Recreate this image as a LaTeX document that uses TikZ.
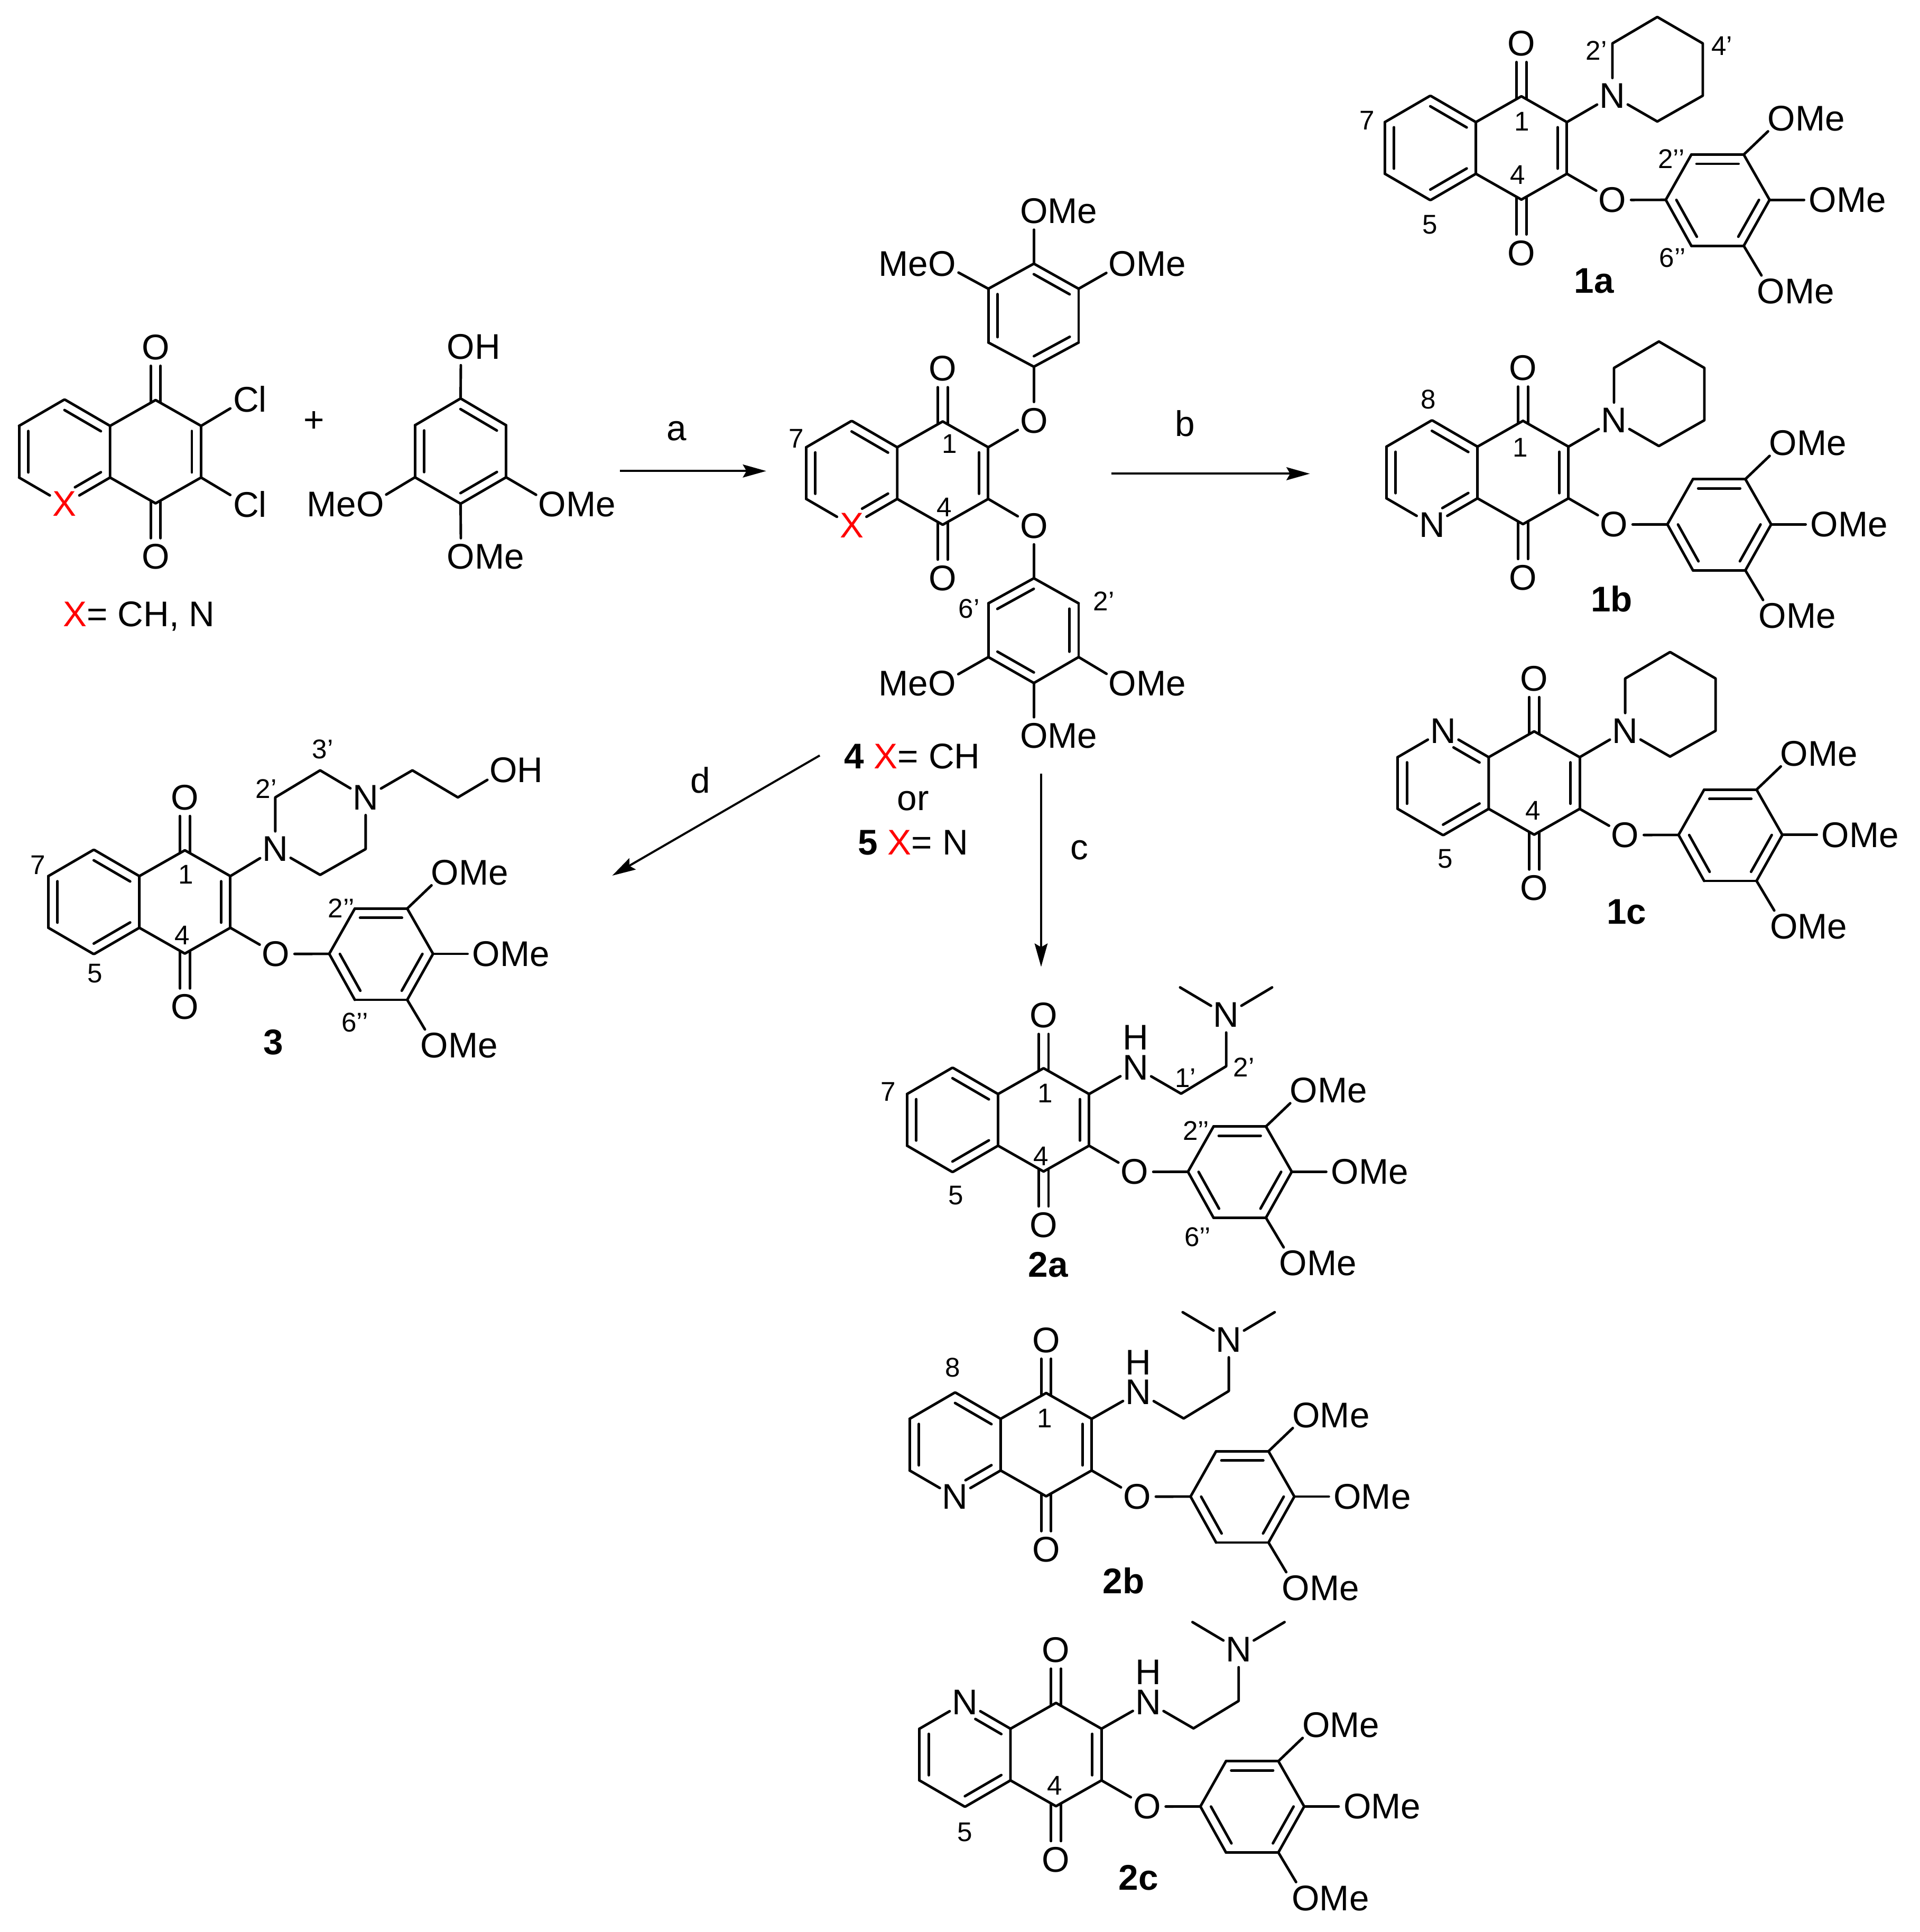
\documentclass[tikz,border=0pt]{standalone}
\usepackage{fontspec}
\setmainfont{Liberation Sans}
\usetikzlibrary{calc,arrows.meta}

\newcommand{\atomfont}{\fontsize{29}{30}\selectfont}
\newcommand{\numfont}{\fontsize{22}{23}\selectfont}
\newcommand{\primemark}{\symbol{39}}
\newcommand{\ome}{O\rlap{Me}}
\newcommand{\meo}{\llap{Me}O}
\newcommand{\redx}{\textcolor{red}{X}}

\tikzset{
  bond/.style={line width=2.1pt,line cap=round,line join=round},
  rxn/.style={line width=1.7pt,-{Stealth[length=19pt,width=10.5pt,inset=3pt]}},
  atom/.style={circle,inner sep=0pt,outer sep=0pt,font=\atomfont},
  txt/.style={inner sep=0pt,font=\atomfont},
  num/.style={inner sep=0pt,font=\numfont},
  cpd/.style={inner sep=0pt,font=\atomfont\bfseries}
}

% double bond: outer line plus inner line on the left of #1 -> #2
\newcommand{\dbl}[4]{
  \draw[bond] (#1) -- (#2);
  \draw[bond] ($(#1)!#3!(#2)!7.5pt!90:(#2)$) -- ($(#2)!#4!(#1)!7.5pt!-90:(#1)$);
}

% quinone core: #1 text and #2 fraction at position 8, #3 and #4 at position 5
\newcommand{\quinonecore}[4]{
  \coordinate (q1) at (0,-42);
  \coordinate (c2) at (37,-21);
  \coordinate (c3) at (37,21);
  \coordinate (q4) at (0,42);
  \coordinate (c4a) at (-37,21);
  \coordinate (c8a) at (-37,-21);
  \coordinate (a7) at (-111,-21);
  \coordinate (a6) at (-111,21);
  \node[atom] (a8) at (-74,-42.5) {#1};
  \node[atom] (a5) at (-74,42.5) {#3};
  \node[atom] (otop) at (0,-85) {O};
  \node[atom] (obot) at (0,85.5) {O};
  \draw[bond] (c8a) -- (q1) -- (c2);
  \draw[bond] (c3) -- (q4) -- (c4a) -- (c8a);
  \draw[bond] (a8) -- (a7);
  \draw[bond] (a6) -- (a5);
  \dbl{a7}{a6}{.1}{.1}
  \dbl{a5}{c4a}{#4}{.1}
  \dbl{c8a}{a8}{.1}{#2}
  \dbl{c3}{c2}{.1}{.1}
  \draw[bond,shorten <=-2pt,transform canvas={xshift=4pt}] (q1) -- (otop);
  \draw[bond,shorten <=-2pt,transform canvas={xshift=-4pt}] (q1) -- (otop);
  \draw[bond,shorten <=-2pt,transform canvas={xshift=4pt}] (q4) -- (obot);
  \draw[bond,shorten <=-2pt,transform canvas={xshift=-4pt}] (q4) -- (obot);
}

% aryl ether on c3 with its three OMe groups
\newcommand{\arylether}{
  \node[atom] (olink) at (74,42.3) {O};
  \coordinate (r1) at (117.4,42.2);
  \coordinate (r2) at (138.2,5.4);
  \coordinate (r3) at (180.8,5.4);
  \coordinate (r4) at (201.8,42.2);
  \coordinate (r5) at (180.8,79.6);
  \coordinate (r6) at (138.2,79.6);
  \node[atom] (me3) at (211.5,-24) {\ome};
  \node[atom] (me4) at (245,42.2) {\ome};
  \node[atom] (me5) at (203,116.7) {\ome};
  \draw[bond] (c3) -- (olink) -- (r1);
  \draw[bond] (r1) -- (r2);
  \draw[bond] (r6) -- (r5);
  \draw[bond] (r4) -- (r3);
  \dbl{r1}{r6}{.1}{.1}
  \dbl{r5}{r4}{.1}{.1}
  \dbl{r3}{r2}{.1}{.1}
  \draw[bond] (r3) -- (me3);
  \draw[bond] (r4) -- (me4);
  \draw[bond] (r5) -- (me5);
}

\newcommand{\piperidine}{
  \node[atom] (npip) at (74,-42.5) {N};
  \coordinate (p2) at (74,-85);
  \coordinate (p3) at (110.5,-106.5);
  \coordinate (p4) at (147.5,-85);
  \coordinate (p5) at (147.5,-42.5);
  \coordinate (p6) at (110.5,-21.5);
  \draw[bond] (c2) -- (npip);
  \draw[bond] (npip) -- (p2) -- (p3) -- (p4) -- (p5) -- (p6) -- (npip);
}

\newcommand{\aminochain}{
  \node[atom] (nh) at (75,-42.6) {\smash{\rlap{\raisebox{24.4pt}{H}}}N};
  \coordinate (ch1) at (111.8,-21.3);
  \coordinate (ch2) at (148.5,-43.6);
  \node[atom] (nme) at (148.5,-85.4) {N};
  \coordinate (mea) at (111,-107.7);
  \coordinate (meb) at (185.8,-107.7);
  \draw[bond] (c2) -- (nh);
  \draw[bond] (nh) -- (ch1) -- (ch2) -- (nme);
  \draw[bond] (nme) -- (mea);
  \draw[bond] (nme) -- (meb);
}

\begin{document}
\begin{tikzpicture}[x=1pt,y=-1pt]
  \useasboundingbox (0,0) rectangle (1561,1571);

  % starting materials
  \begin{scope}[shift={(126.5,367.3)},name prefix=sm-]
    \quinonecore{}{.1}{\redx}{.33}
    \node[atom] (cla) at (73.5,-42.8) {C\rlap{l}};
    \node[atom] (clb) at (73.5,42.8) {C\rlap{l}};
    \draw[bond] (c2) -- (cla);
    \draw[bond] (c3) -- (clb);
  \end{scope}
  \node[txt] (xlist) at (113,501) {\redx= CH, N};
  \node[txt] (plus) at (255.5,342.8) {+};

  \coordinate (ph1) at (374.5,324);
  \coordinate (ph2) at (411.5,345.8);
  \coordinate (ph3) at (411.5,388.1);
  \coordinate (ph4) at (374.5,409.6);
  \coordinate (ph5) at (337.4,388.1);
  \coordinate (ph6) at (337.4,345.8);
  \node[atom] (phoh) at (374.8,281.8) {O\rlap{H}};
  \node[atom] (phr) at (449,410) {\ome};
  \node[atom] (phb) at (374.8,452.8) {\ome};
  \node[atom] (phl) at (301,410) {\meo};
  \draw[bond] (ph1) -- (ph6);
  \draw[bond] (ph5) -- (ph4);
  \draw[bond] (ph3) -- (ph2);
  \dbl{ph6}{ph5}{.1}{.1}
  \dbl{ph4}{ph3}{.1}{.1}
  \dbl{ph2}{ph1}{.1}{.1}
  \draw[bond] (ph1) -- (phoh);
  \draw[bond] (ph3) -- (phr);
  \draw[bond] (ph4) -- (phb);
  \draw[bond] (ph5) -- (phl);

  % intermediates 4 and 5
  \begin{scope}[shift={(766.5,384.7)},name prefix=im-]
    \quinonecore{}{.1}{\redx}{.33}
    \node[atom] (oup) at (74.1,-42.7) {O};
    \node[atom] (olo) at (74.1,42.8) {O};
    \draw[bond] (c2) -- (oup);
    \draw[bond] (c3) -- (olo);
    \coordinate (u1) at (74.1,-86.5);
    \coordinate (u2) at (110.5,-106.2);
    \coordinate (u3) at (110.5,-149.9);
    \coordinate (u4) at (74.1,-170.3);
    \coordinate (u5) at (37.1,-149.9);
    \coordinate (u6) at (37.1,-106.2);
    \node[atom] (utop) at (74.1,-213.1) {\ome};
    \node[atom] (uright) at (146.2,-170.3) {\ome};
    \node[atom] (uleft) at (-.5,-170.3) {\meo};
    \draw[bond] (oup) -- (u1);
    \draw[bond] (u6) -- (u1);
    \draw[bond] (u4) -- (u5);
    \draw[bond] (u3) -- (u2);
    \dbl{u1}{u2}{.1}{.1}
    \dbl{u3}{u4}{.1}{.1}
    \dbl{u5}{u6}{.1}{.1}
    \draw[bond] (u4) -- (utop);
    \draw[bond] (u3) -- (uright);
    \draw[bond] (u5) -- (uleft);
    \coordinate (l1) at (74.1,85.5);
    \coordinate (l2) at (110.5,105.9);
    \coordinate (l3) at (110.5,149.6);
    \coordinate (l4) at (74.1,170.7);
    \coordinate (l5) at (37.1,149.6);
    \coordinate (l6) at (37.1,105.9);
    \node[atom] (lbot) at (74.1,213.7) {\ome};
    \node[atom] (lright) at (146.2,171) {\ome};
    \node[atom] (lleft) at (-.5,171) {\meo};
    \draw[bond] (olo) -- (l1);
    \draw[bond] (l1) -- (l2);
    \draw[bond] (l3) -- (l4);
    \draw[bond] (l5) -- (l6);
    \dbl{l1}{l6}{.1}{.1}
    \dbl{l3}{l2}{.1}{.1}
    \dbl{l5}{l4}{.1}{.1}
    \draw[bond] (l4) -- (lbot);
    \draw[bond] (l3) -- (lright);
    \draw[bond] (l5) -- (lleft);
  \end{scope}
  \node[num] (im7) at (647.6,356.4) {7};
  \node[num] (im1) at (772,360.7) {1};
  \node[num] (im4) at (767.7,412.3) {4};
  \node[num] (im6p) at (788,494.9) {6\primemark};
  \node[num] (im2p) at (897.6,489) {2\primemark};
  \node[txt] (imlabela) at (741.7,615) {{\bfseries 4} \redx= CH};
  \node[txt] (imlabelb) at (742.4,651.2) {or};
  \node[txt] (imlabelc) at (742.4,685.3) {{\bfseries 5} \redx= N};

  % piperidines 1a, 1b, 1c
  \begin{scope}[shift={(1237,120.3)},name prefix=ma-]
    \quinonecore{}{.1}{}{.1}
    \arylether
    \piperidine
  \end{scope}
  \node[num] (ma7) at (1111.6,98) {7};
  \node[num] (ma1) at (1237.3,98.7) {1};
  \node[num] (ma4) at (1234,142.3) {4};
  \node[num] (ma5) at (1162.8,182.6) {5};
  \node[num] (ma2p) at (1298,41) {2\primemark};
  \node[num] (ma4p) at (1400,37.5) {4\primemark};
  \node[num] (ma2pp) at (1359,129) {2\primemark\primemark};
  \node[num] (ma6pp) at (1360,209.7) {6\primemark\primemark};
  \node[cpd] (maname) at (1296,228.6) {1a};

  \begin{scope}[shift={(1238.3,384.2)},name prefix=mb-]
    \quinonecore{}{.1}{N}{.33}
    \arylether
    \piperidine
  \end{scope}
  \node[num] (mb8) at (1161.2,324.6) {8};
  \node[num] (mb1) at (1236.3,363.7) {1};
  \node[cpd] (mbname) at (1310.5,486.9) {1b};

  \begin{scope}[shift={(1247.4,636.7)},name prefix=mc-]
    \quinonecore{N}{.33}{}{.1}
    \arylether
    \piperidine
  \end{scope}
  \node[num] (mc4) at (1246.4,659.3) {4};
  \node[num] (mc5) at (1175.2,698.3) {5};
  \node[cpd] (mcname) at (1322.5,741.4) {1c};

  % amines 2a, 2b, 2c
  \begin{scope}[shift={(848.5,910.6)},name prefix=na-]
    \quinonecore{}{.1}{}{.1}
    \arylether
    \aminochain
  \end{scope}
  \node[num] (na7) at (722,887.6) {7};
  \node[num] (na1) at (850,889) {1};
  \node[num] (na4) at (846.4,940) {4};
  \node[num] (na5) at (777.4,972) {5};
  \node[num] (na1p) at (963.8,876.5) {1\primemark};
  \node[num] (na2p) at (1011.3,868) {2\primemark};
  \node[num] (na2pp) at (972.5,919.6) {2\primemark\primemark};
  \node[num] (na6pp) at (973.8,1006) {6\primemark\primemark};
  \node[cpd] (naname) at (852.2,1028.4) {2a};

  \begin{scope}[shift={(850.6,1174.7)},name prefix=nb-]
    \quinonecore{}{.1}{N}{.33}
    \arylether
    \aminochain
  \end{scope}
  \node[num] (nb8) at (774.5,1112.1) {8};
  \node[num] (nb1) at (849.6,1153.2) {1};
  \node[cpd] (nbname) at (913.7,1285.4) {2b};

  \begin{scope}[shift={(858.6,1426.7)},name prefix=nc-]
    \quinonecore{N}{.33}{}{.1}
    \arylether
    \aminochain
  \end{scope}
  \node[num] (nc4) at (857.6,1451.8) {4};
  \node[num] (nc5) at (784.5,1489.8) {5};
  \node[cpd] (ncname) at (925.8,1526.9) {2c};

  % piperazine 3
  \begin{scope}[shift={(150.3,733.4)},name prefix=pz-]
    \quinonecore{}{.1}{}{.1}
    \arylether
    \node[atom] (na) at (73.5,-43) {N};
    \node[atom] (nb) at (147,-85) {N};
    \coordinate (z1) at (73.5,-85);
    \coordinate (z2) at (110,-107);
    \coordinate (z3) at (147,-43);
    \coordinate (z4) at (110,-22);
    \coordinate (e1) at (185,-107);
    \coordinate (e2) at (222,-85);
    \node[atom] (oh) at (259,-107) {O\rlap{H}};
    \draw[bond] (c2) -- (na);
    \draw[bond] (na) -- (z1) -- (z2) -- (nb);
    \draw[bond] (nb) -- (z3) -- (z4) -- (na);
    \draw[bond] (nb) -- (e1) -- (e2) -- (oh);
  \end{scope}
  \node[num] (pz7) at (31,703.3) {7};
  \node[num] (pz1) at (151.3,711.3) {1};
  \node[num] (pz4) at (148.3,760.4) {4};
  \node[num] (pz5) at (77.1,791.5) {5};
  \node[num] (pz2p) at (216.4,641.2) {2\primemark};
  \node[num] (pz3p) at (262.5,609.2) {3\primemark};
  \node[num] (pz2pp) at (277.5,738.4) {2\primemark\primemark};
  \node[num] (pz6pp) at (288.5,831.6) {6\primemark\primemark};
  \node[cpd] (pzname) at (222.4,847.6) {3};

  % reaction arrows
  \coordinate (sa) at (504,383);
  \coordinate (ea) at (623,383);
  \coordinate (sb) at (903.7,385.2);
  \coordinate (eb) at (1065,385.2);
  \coordinate (sc) at (846.5,629.2);
  \coordinate (ec) at (846.5,786.2);
  \coordinate (sd) at (666.5,614.3);
  \coordinate (ed) at (497.8,712);
  \draw[rxn] (sa) -- (ea);
  \draw[rxn] (sb) -- (eb);
  \draw[rxn] (sc) -- (ec);
  \draw[rxn] (sd) -- (ed);
  \node[txt] (stepa) at (550,350.7) {a};
  \node[txt] (stepb) at (963.5,344.5) {b};
  \node[txt] (stepc) at (877.7,691.3) {c};
  \node[txt] (stepd) at (569.4,634.6) {d};
\end{tikzpicture}
\end{document}
